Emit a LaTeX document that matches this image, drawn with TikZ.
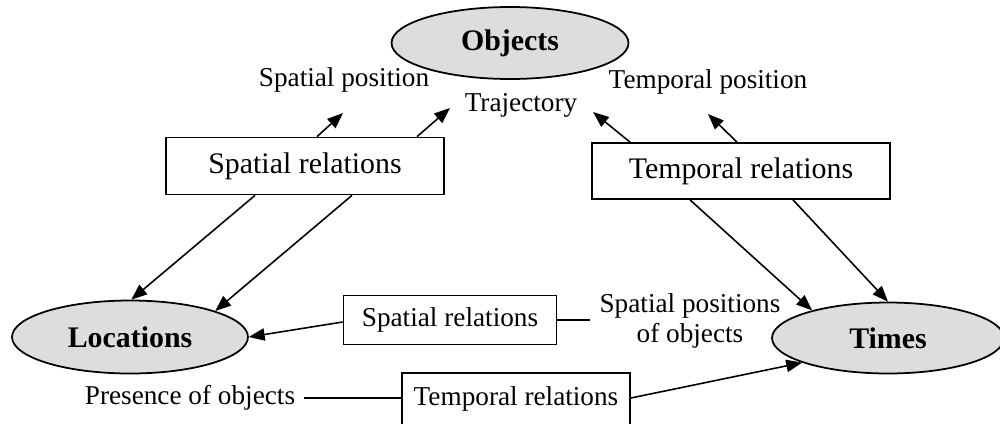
\documentclass[tikz,border=0pt]{standalone}
\usepackage{fontspec}
\setmainfont{Liberation Serif}
\usetikzlibrary{shapes.geometric}
\usetikzlibrary{arrows.meta}

\tikzset{
  concept/.style={ellipse, draw, line width=1pt, fill=gray!27, inner sep=0pt,
    font=\fontsize{17}{20}\selectfont\bfseries},
  relbox/.style={rectangle, draw, line width=1pt, inner sep=0pt},
  lbl/.style={inner sep=3pt, font=\fontsize{15.5}{17}\selectfont, align=center},
  arr/.style={-{Triangle[length=9pt,width=7pt]}, line width=0.9pt},
  link/.style={line width=0.9pt}
}

\begin{document}
\begin{tikzpicture}[x=0.02cm, y=-0.02cm]
\useasboundingbox (0,0) rectangle (1000,423);

% the three concepts
\node [concept, minimum width=4.74cm, minimum height=1.44cm] (objects) at (510, 43) {Objects};
\node [concept, minimum width=4.72cm, minimum height=1.46cm] (locations) at (130, 337) {Locations};
\node [concept, minimum width=4.64cm, minimum height=1.42cm] (times) at (888, 338) {Times};

% relation boxes
\node [relbox, minimum width=5.56cm, minimum height=1.14cm, font=\fontsize{17}{20}\selectfont]
    (spatrel) at (305, 166) {Spatial relations};
\node [relbox, minimum width=5.96cm, minimum height=1.12cm, font=\fontsize{17}{20}\selectfont]
    (temprel) at (741, 171) {Temporal relations};
\node [relbox, minimum width=4.26cm, minimum height=0.98cm, font=\fontsize{15.5}{17}\selectfont]
    (spatrelmid) at (450, 320) {Spatial relations};
\node [relbox, minimum width=4.56cm, minimum height=1.04cm, font=\fontsize{15.5}{17}\selectfont]
    (temprelbot) at (516, 399) {Temporal relations};

% labels
\node [lbl] (spatpos) at (344, 80) {Spatial position};
\node [lbl] (traj) at (521, 105) {Trajectory};
\node [lbl] (temppos) at (708, 82) {Temporal position};
\node [lbl, inner sep=5pt] (spatposobj) at (690, 321) {Spatial positions\\of objects};
\node [lbl, inner sep=5pt] (presence) at (190, 398) {Presence of objects};

% free ends of the upward arrows
\coordinate (spatposend) at (343, 113);
\coordinate (trajendl) at (450, 108);
\coordinate (trajendr) at (593, 112);
\coordinate (tempposend) at (708, 114);

% spatial relations (top)
\draw [arr] ([xshift=0.24cm]spatrel.north) -- (spatposend);
\draw [arr] ([xshift=2.24cm]spatrel.north) -- (trajendl);
\draw [arr] ([xshift=-1.0cm]spatrel.south) -- (locations.88);
\draw [arr] ([xshift=0.94cm]spatrel.south) -- (locations.17);

% temporal relations (top)
\draw [arr] ([xshift=-2.22cm]temprel.north) -- (trajendr);
\draw [arr] ([xshift=-0.08cm]temprel.north) -- (tempposend);
\draw [arr] ([xshift=-1.02cm]temprel.south) -- (times.160);
\draw [arr] ([xshift=1.04cm]temprel.south) -- (times.north);

% spatial relations (middle)
\draw [arr] ([yshift=-0.04cm]spatrelmid.west) -- (locations.east);
\draw [link] (spatrelmid.east) -- (spatposobj.west |- spatrelmid.east);

% temporal relations (bottom)
\draw [link] (presence.east) -- (temprelbot.west |- presence.east);
\draw [arr] ([yshift=0.02cm]temprelbot.east) -- (times.196);
\end{tikzpicture}
\end{document}
